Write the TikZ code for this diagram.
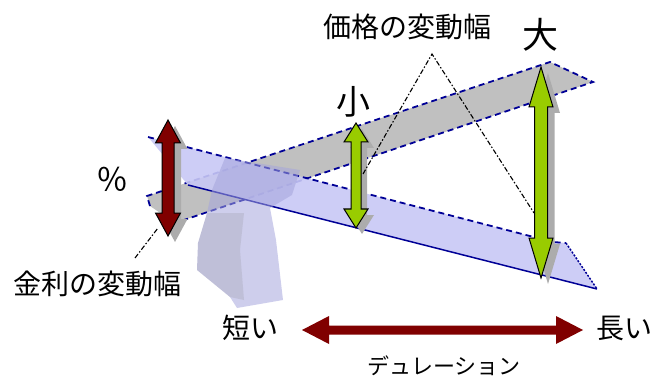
\documentclass[tikz,border=0pt]{standalone}
\usepackage{fontspec}
\newfontfamily\jp{Noto Sans CJK JP}
\definecolor{bandblue}{RGB}{200,200,245}
\definecolor{bandgray}{RGB}{192,192,192}
\definecolor{edgeblue}{RGB}{0,0,150}
\definecolor{maroon}{RGB}{128,0,0}
\definecolor{limeg}{RGB}{153,204,0}
\definecolor{fulcrum}{RGB}{165,165,220}
\newcommand\vdblarrow[7]{%
  \path[#7] (#1,#2) -- (#1+#5,#2+#6) -- (#1+#4,#2+#6) -- (#1+#4,#3-#6) -- (#1+#5,#3-#6) -- (#1,#3)
    -- (#1-#5,#3-#6) -- (#1-#4,#3-#6) -- (#1-#4,#2+#6) -- (#1-#5,#2+#6) -- cycle;}
\newcommand\hdblarrow[7]{%
  \path[#7] (#1,#3) -- (#1+#6,#3-#5) -- (#1+#6,#3-#4) -- (#2-#6,#3-#4) -- (#2-#6,#3-#5) -- (#2,#3)
    -- (#2-#6,#3+#5) -- (#2-#6,#3+#4) -- (#1+#6,#3+#4) -- (#1+#6,#3+#5) -- cycle;}
\begin{document}
\begin{tikzpicture}[x=1pt,y=-1pt,
  dashededge/.style={draw=edgeblue, line width=1.8pt, dash pattern=on 6pt off 4pt},
  solidedge/.style={draw=edgeblue, line width=1.5pt},
  leader/.style={draw=black, line width=1.1pt, dash pattern=on 5pt off 2pt on 1.5pt off 2pt},
  shadowfill/.style={fill=gray!65},
  greenarrow/.style={fill=limeg, draw=black, line width=1pt},
  redarrow/.style={fill=maroon, draw=black, line width=1pt},
  lbl/.style={inner sep=0pt, font=\jp\fontsize{28}{28}\selectfont}]
\useasboundingbox (0,0) rectangle (651,385);

% price band (gray)
\fill[bandgray] (147,196) -- (550,62) -- (593,82) -- (175,223) -- (150,206) -- cycle;
\draw[dashededge] (150,206) -- (147,196) -- (550,62) -- (593,82) -- (175,223);

% rate band (blue)
\fill[bandblue, opacity=0.9] (148,137) -- (553,242) -- (566,243) -- (597,289) -- (188,185) -- cycle;
\draw[dashededge] (148,137) -- (553,242) -- (566,243);
\draw[edgeblue, line width=1.5pt, dash pattern=on 2pt off 1.5pt] (566,243) -- (597,289);
\draw[solidedge] (597,289) -- (188,185);

% translucent support
\fill[fulcrum, opacity=0.55] (207,213) -- (212,190) -- (225,158) -- (300,170) -- (292,195)
  -- (270,208) -- (276,240) -- (283,300) -- (237,308) -- (230,297) -- (197,270) -- (198,243) -- cycle;
\fill[gray, opacity=0.18] (207,213) -- (198,243) -- (197,270) -- (230,297) -- (244,300) -- (240,250) -- (244,213) -- cycle;

% arrows with shadows
\vdblarrow{175}{126}{242}{6}{12.5}{23}{shadowfill}
\vdblarrow{168}{120}{236}{6}{12.5}{23}{redarrow}
\vdblarrow{362}{129}{234}{5}{12}{19}{shadowfill}
\vdblarrow{356}{123}{228}{5}{12}{19}{greenarrow}
\vdblarrow{548}{73}{284}{6.5}{12}{40}{shadowfill}
\vdblarrow{541}{67}{278}{6.5}{12}{40}{greenarrow}
\hdblarrow{302}{583}{330}{4.5}{14}{27}{fill=maroon}

% labels
\node[lbl] (kakaku) at (407,27) {価格の変動幅};
\node[lbl, font=\jp\fontsize{36}{36}\selectfont] (dai) at (540,35) {大};
\node[lbl, font=\jp\fontsize{34}{34}\selectfont] (sho) at (353,102) {小};
\node[lbl, font=\jp\fontsize{32}{32}\selectfont] (pct) at (112,179) {％};
\node[lbl] (kinri) at (97,284) {金利の変動幅};
\node[lbl] (short) at (250,328) {短い};
\node[lbl] (long) at (624,328) {長い};
\node[lbl, font=\jp\fontsize{22}{22}\selectfont] (dur) at (444,366) {デュレーション};

% leader lines
\coordinate (apex) at (432,54);
\coordinate (smallend) at (363,174);
\coordinate (bigend) at (534,213);
\coordinate (kinristart) at (135,258);
\coordinate (redend) at (158,228);
\draw[leader] (smallend) -- (apex) -- (bigend);
\draw[leader] (kinristart) -- (redend);
\end{tikzpicture}
\end{document}
